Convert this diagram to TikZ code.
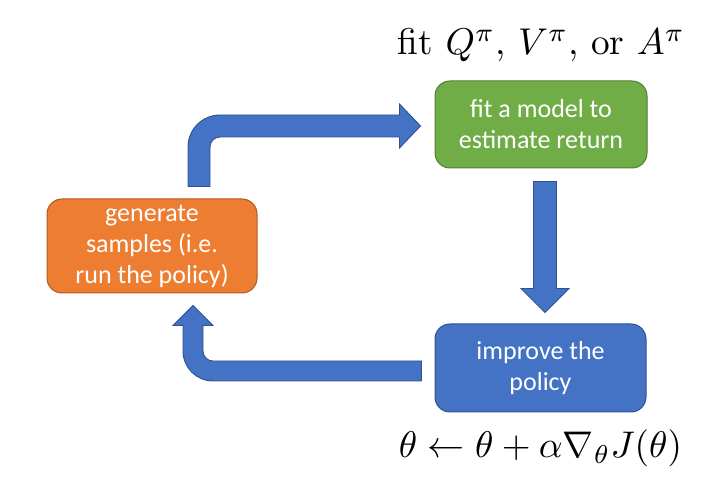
\documentclass[tikz,border=0pt]{standalone}
\usepackage{fontspec}
\newfontfamily\boxfont{Carlito}
\usetikzlibrary{calc}
\definecolor{oOrange}{HTML}{ED7D31}
\definecolor{oOrangeB}{HTML}{AE5A21}
\definecolor{oGreen}{HTML}{70AD47}
\definecolor{oGreenB}{HTML}{507E32}
\definecolor{oBlue}{HTML}{4472C4}
\definecolor{oBlueB}{HTML}{2F528F}
\tikzset{
  box/.style={rounded corners=15pt, line width=1pt, inner sep=0pt, align=center,
    text=white, font=\boxfont\fontsize{26}{31}\selectfont},
  barrow/.style={fill=oBlue, draw=oBlueB, line width=0.9pt, line join=miter}
}
\begin{document}
\begin{tikzpicture}[x=1pt,y=1pt]
\useasboundingbox (0,0) rectangle (718,498);
\node[box, fill=oOrange, draw=oOrangeB, minimum width=210pt, minimum height=94pt] (gen) at (152,252)
  {generate\\samples (i.e.\\run the policy)};
\node[box, fill=oGreen, draw=oGreenB, minimum width=212pt, minimum height=87pt] (fit) at (541,373.5)
  {fit a model to\\estimate return};
\node[box, fill=oBlue, draw=oBlueB, minimum width=211pt, minimum height=88pt] (imp) at (540.5,130)
  {improve the\\policy};
\node[anchor=base, inner sep=0pt] (title) at (541.5,443)
  {\resizebox{287pt}{!}{fit $Q^\pi$, $V^\pi$, or $A^\pi$}};
\node[anchor=base, inner sep=0pt] (upd) at (540.5,40)
  {\resizebox{283pt}{!}{$\theta \leftarrow \theta + \alpha \nabla_\theta J(\theta)$}};
% top arrow: gen -> fit
\draw[barrow] let \p1=($(gen.north)+(47,12)$), \p2=($(fit.west)+(-14,-1.5)$) in
  (\x1-11pt,\y1) -- (\x1-11pt,\y2-21pt) arc[start angle=180,end angle=90,radius=32pt]
  -- (\x2-21pt,\y2+11pt) -- (\x2-21pt,\y2+22pt) -- (\p2) -- (\x2-21pt,\y2-22pt)
  -- (\x2-21pt,\y2-11pt) -- (\x1+21pt,\y2-11pt) arc[start angle=90,end angle=180,radius=10pt]
  -- (\x1+11pt,\y1) -- cycle;
% down arrow: fit -> imp
\draw[barrow] let \p1=($(fit.south)+(4,-13)$), \p2=($(imp.north)+(4.5,11)$) in
  (\x1-11.5pt,\y1) -- (\x1-11.5pt,\y2+24pt) -- (\x1-24pt,\y2+24pt) -- (\x1,\y2)
  -- (\x1+24pt,\y2+24pt) -- (\x1+11.5pt,\y2+24pt) -- (\x1+11.5pt,\y1) -- cycle;
% bottom arrow: imp -> gen
\draw[barrow] let \p1=($(imp.west)+(-13,-3)$), \p2=($(gen.south)+(41,-12)$) in
  (\x1,\y1+10pt) -- (\x1,\y1-10pt) -- (\x2+20pt,\y1-10pt) arc[start angle=270,end angle=180,radius=30pt]
  -- (\x2-10pt,\y2-20pt) -- (\x2-20pt,\y2-20pt) -- (\p2) -- (\x2+20pt,\y2-20pt)
  -- (\x2+10pt,\y2-20pt) -- (\x2+10pt,\y1+20pt) arc[start angle=180,end angle=270,radius=10pt]
  -- cycle;
\end{tikzpicture}
\end{document}
